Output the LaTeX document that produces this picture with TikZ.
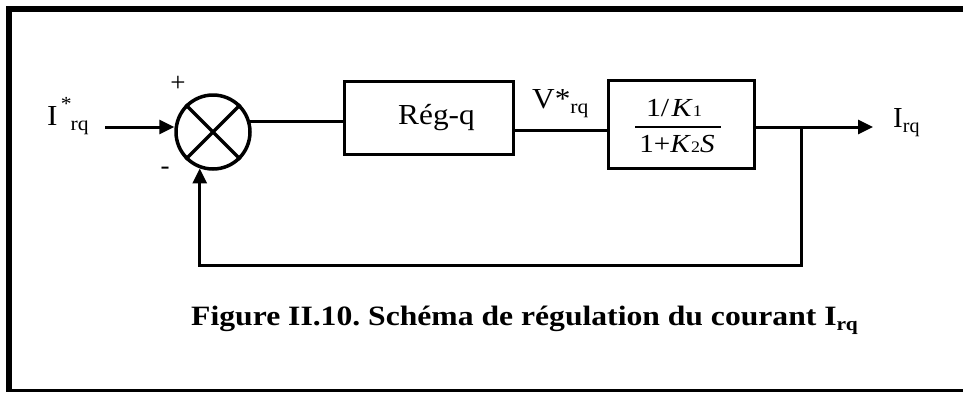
\documentclass[tikz,border=0pt]{standalone}
\usepackage{fontspec}
\setmainfont{Liberation Serif}
\usetikzlibrary{arrows.meta}
\newcommand{\hx}[2][1.08]{\scalebox{#1}[1]{#2}}
\newcommand{\subrq}{\raisebox{-0.42ex}{\fontsize{20}{20}\selectfont rq}}
\begin{document}
\frenchspacing
\begin{tikzpicture}[x=1pt,y=-1pt,
  blk/.style={draw,line width=3pt,inner sep=0pt},
  sumnode/.style={draw,circle,line width=3.5pt,minimum size=74pt,inner sep=0pt},
  conn/.style={line width=3pt},
  arr/.style={line width=3pt,-{Triangle[length=15pt,width=14pt]}},
  lbl/.style={font=\fontsize{29}{32}\selectfont,inner sep=0pt,anchor=base west},
  sgn/.style={font=\fontsize{27}{29}\selectfont,inner sep=0pt}]
\useasboundingbox (0,0) rectangle (963,392);
% frame
\draw[line width=6pt] (963,8.5) -- (9,8.5) -- (9,392);
\draw[line width=2.2pt] (9,390.5) -- (963,390.5);
% nodes
\node[sumnode] (s) at (213,132) {};
\draw[line width=3.5pt] (s.45) -- (s.225) (s.135) -- (s.315);
\node[blk,minimum width=169pt,minimum height=73pt] (r) at (428.5,117.5) {};
\node[lbl] (rt) at (398,124.5) {\hx{Rég-q}};
\node[blk,minimum width=146pt,minimum height=88pt] (g) at (681,124) {};
\node[inner sep=0pt,anchor=base,font=\fontsize{26}{28}\selectfont] (gn) at (674,116)
  {\hx[1.15]{1/\kern2pt\textit{K}{\fontsize{16}{16}\selectfont 1}}};
\node[inner sep=0pt,anchor=base,font=\fontsize{26}{28}\selectfont] (gd) at (677,152)
  {\hx[1.12]{1+\textit{K}{\fontsize{16}{16}\selectfont 2}\textit{S}}};
\draw[line width=1.4pt] (635,127) -- (721,127);
% labels
\node[lbl] (iin) at (47,125) {\hx{I\kern3pt\raisebox{1.1ex}{\fontsize{20}{20}\selectfont *}\kern-1pt\subrq}};
\node[lbl] (vl) at (532,108) {\hx{V*\subrq}};
\node[lbl] (iout) at (893,127) {\hx[1.0]{I\subrq}};
\node[sgn] (plus) at (178,84) {+};
\node[sgn] (minus) at (165,171) {-};
% connectors
\coordinate (in) at (105,127);
\draw[arr] (in) -- (in -| s.west);
\draw[conn] (s.15) -- (s.15 -| r.west);
\draw[conn] ([yshift=-12.5pt]r.east) -- ([yshift=-12.5pt]r.east -| g.west);
\coordinate (out) at (873,127);
\coordinate (br) at (801,127);
\coordinate (fb) at (801,265);
\draw[arr] (g.east |- out) -- (out);
\draw[arr] (br) -- (fb) -| (s.250);
% caption
\node[font=\bfseries\fontsize{28}{30}\selectfont,inner sep=0pt,anchor=base] (cap) at (524.5,325)
  {\hx[1.13]{Figure II.10. Schéma de régulation du courant I\raisebox{-0.4ex}{\fontsize{19}{19}\selectfont rq}}};
\end{tikzpicture}
\end{document}
